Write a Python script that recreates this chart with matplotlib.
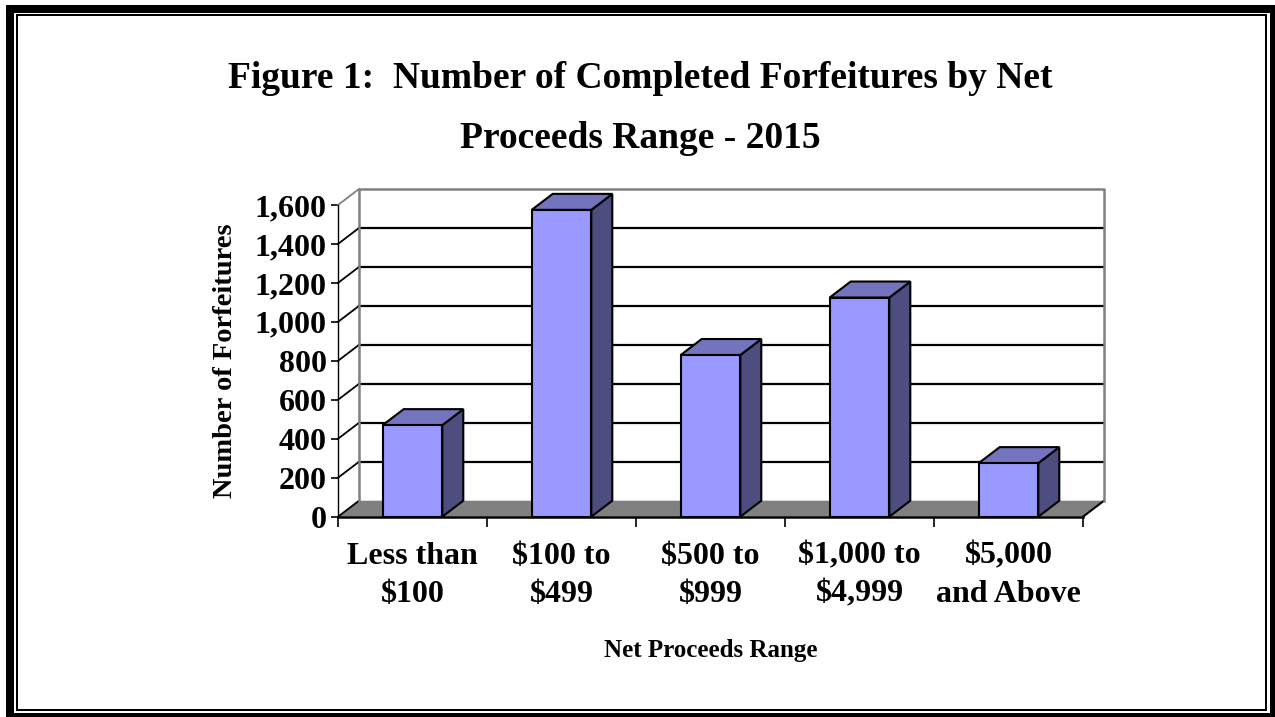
import matplotlib
matplotlib.use("Agg")
from matplotlib import pyplot as plt
from matplotlib.patches import Rectangle, Polygon
from matplotlib.ticker import FuncFormatter
import numpy as np

# data
categories = ["Less than\n$100", "$100 to\n$499", "$500 to\n$999",
              "$1,000 to\n$4,999", "$5,000\nand Above"]
forfeitures = [470, 1575, 830, 1125, 275]
y_ticks = [0, 200, 400, 600, 800, 1000, 1200, 1400, 1600]

W, H = 1275, 717
plt.rcParams['font.family'] = ['Liberation Serif', 'DejaVu Serif']
plt.rcParams['font.weight'] = 'bold'

fig = plt.figure(figsize=(W / 100, H / 100), dpi=100)


def fx(px):
    return px / W


def fy(py):
    return 1 - py / H


# front plane of the plot area
left, right, top, bottom = 338, 1083, 205, 516.7
ax = fig.add_axes([fx(left), fy(bottom), fx(right) - fx(left), fy(top) - fy(bottom)])
n = len(categories)
ax.set_xlim(-0.5, n - 0.5)
ax.set_ylim(0, 1600)
for s in ax.spines.values():
    s.set_visible(False)

# depth offset (pixels) turned into data units
DX, DY = 21, 16
ddx = DX / ((right - left) / n)
ddy = DY / ((bottom - top) / 1600)
x0, x1 = -0.5, n - 0.5

# floor
ax.add_patch(Polygon([(x0, 0), (x1, 0), (x1 + ddx, ddy), (x0 + ddx, ddy)],
                     closed=True, facecolor='#808080', edgecolor='none',
                     zorder=1, clip_on=False))
ax.plot([x1, x1 + ddx], [0, ddy], color='black', lw=1.5, zorder=2, clip_on=False)

# back wall gridlines and border
for g in y_ticks[1:-1]:
    ax.plot([x0 + ddx, x1 + ddx], [g + ddy, g + ddy], color='black', lw=1.6,
            zorder=2, clip_on=False)
for g in y_ticks:
    c = '#808080' if g == y_ticks[-1] else 'black'
    ax.plot([x0, x0 + ddx], [g, g + ddy], color=c, lw=1.3, zorder=2, clip_on=False)
ax.plot([x0 + ddx, x0 + ddx, x1 + ddx, x1 + ddx],
        [ddy, 1600 + ddy, 1600 + ddy, ddy], color='#808080', lw=1.8,
        zorder=2, clip_on=False)

# 3d-looking columns
hw = 0.2
for i, v in enumerate(forfeitures):
    front = Rectangle((i - hw, 0), 2 * hw, v, facecolor='#9999FF',
                      edgecolor='black', lw=1.5, zorder=4, clip_on=False)
    topf = Polygon([(i - hw, v), (i + hw, v), (i + hw + ddx, v + ddy),
                    (i - hw + ddx, v + ddy)], closed=True, facecolor='#7373BE',
                   edgecolor='black', lw=1.5, zorder=3, clip_on=False)
    side = Polygon([(i + hw, 0), (i + hw + ddx, ddy), (i + hw + ddx, v + ddy),
                    (i + hw, v)], closed=True, facecolor='#4D4D80',
                   edgecolor='black', lw=1.5, zorder=3, clip_on=False)
    ax.add_patch(side)
    ax.add_patch(topf)
    ax.add_patch(front)

# front axes lines
ax.plot([x0, x1], [0, 0], color='black', lw=1.8, zorder=5, clip_on=False)
ax.plot([x0, x0], [0, 1600], color='black', lw=1.0, zorder=5, clip_on=False)

ax.set_yticks(y_ticks)
ax.yaxis.set_major_formatter(FuncFormatter(lambda v, p: f"{int(v):,}"))
ax.tick_params(axis='y', length=5, width=1.2, pad=3, labelsize=23)
ax.set_xticks(range(n))
ax.set_xticklabels(categories, fontsize=23, linespacing=1.4)
ax.set_xticks(np.arange(-0.5, n, 1.0), minor=True)
ax.tick_params(axis='x', which='major', length=0, pad=18)
ax.tick_params(axis='x', which='minor', length=7, width=1.2)
for lab in ax.get_yticklabels() + ax.get_xticklabels():
    lab.set_fontweight('bold')

ax.set_ylabel("Number of Forfeitures", fontsize=20.5, fontweight='bold', labelpad=12)
ax.set_xlabel("Net Proceeds Range", fontsize=18, fontweight='bold', labelpad=22)

# title, two centred lines
fig.text(fx(640), fy(88), "Figure 1:  Number of Completed Forfeitures by Net",
         ha='center', va='baseline', fontsize=27, fontweight='bold')
fig.text(fx(640), fy(148), "Proceeds Range - 2015",
         ha='center', va='baseline', fontsize=27, fontweight='bold')

# double frame
fig.add_artist(Rectangle((fx(10), fy(717)), fx(1274) - fx(10), fy(8.5) - fy(717),
                         transform=fig.transFigure, fill=False,
                         edgecolor='black', lw=8 * 0.72))
fig.add_artist(Rectangle((fx(17), fy(709.5)), fx(1266) - fx(17), fy(15) - fy(709.5),
                         transform=fig.transFigure, fill=False,
                         edgecolor='black', lw=2 * 0.72))

fig.savefig("out.png", dpi=100)
plt.close(fig)
